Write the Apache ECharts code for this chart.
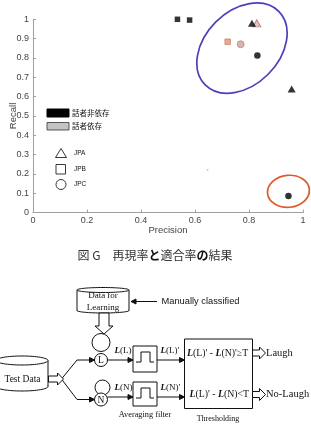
<!DOCTYPE html>
<html><head><meta charset="utf-8">
<script src="https://cdn.jsdelivr.net/npm/echarts@6/dist/echarts.min.js"></script>
<style>html,body{margin:0;padding:0;background:#fff}#c{width:311px;height:445px}</style>
</head><body><div id="c"></div>
<script>
// ---- data ----
const xTickValues = [0, 0.2, 0.4, 0.6, 0.8, 1];
const yTickValues = [0, 0.1, 0.2, 0.3, 0.4, 0.5, 0.6, 0.7, 0.8, 0.9, 1];
const legendGroups = ['話者非依存', '話者依存'];
const legendSets = ['JPA', 'JPB', 'JPC'];
// speaker-independent (black)
const indepJPA = [[0.811, 0.979], [0.958, 0.639]];
const indepJPB = [[0.535, 1.0], [0.580, 0.996]];
const indepJPC = [[0.831, 0.813], [0.946, 0.086]];
// speaker-dependent (coloured)
const depJPA = [[0.829, 0.979]];
const depJPB = [[0.721, 0.884]];
const depJPC = [[0.769, 0.871]];
const strayDot = [[0.647, 0.22]];
// ellipse centres (data coords)
const ellipseCentres = [[0.774, 0.851], [0.946, 0.110]];
const caption = '図 G　再現率{b|と}適合率{b|の}結果';

// ---- styles ----
const ellipseStyles = [
  {rx: 52, ry: 37, rot: Math.PI / 4, color: '#4a40b8'},
  {rx: 21, ry: 16, rot: 0.1, color: '#e05a2c'}
];
const AX = '#a0a0a0', TX = '#444';
const SERIF = 'Liberation Serif';
const SANS = 'Liberation Sans';

function txt(x, y, text, font, align, extra) {
  return Object.assign({type: 'text', x: x, y: y, z: 20,
    style: {text: text, font: font, fill: '#111', align: align || 'left', textAlign: align || 'left',
      verticalAlign: 'middle', textVerticalAlign: 'middle'}}, extra || {});
}
function richTxt(x, y, text, size, align) {
  return {type: 'text', x: x, y: y, z: 20,
    style: {text: text, fill: '#111', align: align || 'left', textAlign: align || 'left',
      verticalAlign: 'middle', textVerticalAlign: 'middle', font: size + 'px ' + SERIF,
      rich: {b: {font: 'italic bold ' + size + 'px ' + SERIF, fill: '#111'},
             n: {font: size + 'px ' + SERIF, fill: '#111'}}}};
}
function line(x1, y1, x2, y2, z) {
  return {type: 'line', z: z || 10, shape: {x1: x1, y1: y1, x2: x2, y2: y2}, style: {stroke: '#111', lineWidth: 1}};
}
function poly(points, fill, z) {
  return {type: 'polygon', z: z || 10, shape: {points: points}, style: {fill: fill || '#111', stroke: '#111', lineWidth: 1}};
}
function pline(points, z) {
  return {type: 'polyline', z: z || 10, shape: {points: points}, style: {stroke: '#111', fill: null, lineWidth: 1}};
}
function rect(x, y, w, h, z) {
  return {type: 'rect', z: z || 10, shape: {x: x, y: y, width: w, height: h}, style: {fill: '#fff', stroke: '#111', lineWidth: 1}};
}
function circ(cx, cy, r, fill, z) {
  return {type: 'circle', z: z || 10, shape: {cx: cx, cy: cy, r: r}, style: {fill: fill, stroke: '#111', lineWidth: 1}};
}
function ell(cx, cy, rx, ry, fill, stroke, z) {
  return {type: 'ellipse', z: z || 10, shape: {cx: cx, cy: cy, rx: rx, ry: ry}, style: {fill: fill, stroke: stroke, lineWidth: 1}};
}
function arrowR(x, y) { return poly([[x, y], [x - 5, y - 2.5], [x - 5, y + 2.5]], '#111', 12); }
function arrowL(x, y) { return poly([[x, y], [x + 5, y - 2.5], [x + 5, y + 2.5]], '#111', 12); }
function hollowR(x1, x2, y) {
  return poly([[x1, y - 3], [x2 - 6, y - 3], [x2 - 6, y - 6], [x2, y], [x2 - 6, y + 6], [x2 - 6, y + 3], [x1, y + 3]], '#fff', 11);
}
function hollowD(x, y1, y2) {
  return poly([[x - 5, y1], [x + 5, y1], [x + 5, y2 - 8], [x + 9, y2 - 8], [x, y2], [x - 9, y2 - 8], [x - 5, y2 - 8]], '#fff', 11);
}
function cylinder(x, y, w, h, ry) {
  const cx = x + w / 2;
  return [
    ell(cx, y + h - ry, w / 2, ry, '#fff', '#111', 8),
    {type: 'rect', z: 9, shape: {x: x + 0.5, y: y + ry, width: w - 1, height: h - 2 * ry}, style: {fill: '#fff', stroke: null}},
    line(x, y + ry, x, y + h - ry, 9),
    line(x + w, y + ry, x + w, y + h - ry, 9),
    ell(cx, y + ry, w / 2, ry, '#fff', '#111', 9)
  ];
}

// legend graphics inside plot
const legendEls = [
  {type: 'rect', z: 20, shape: {x: 47, y: 109, width: 22, height: 8}, style: {fill: '#000', stroke: '#000'}},
  txt(72, 113.5, legendGroups[0], '7.5px "Noto Sans CJK JP"'),
  {type: 'rect', z: 20, shape: {x: 47, y: 122.5, width: 22, height: 7.5}, style: {fill: '#c4c4c4', stroke: '#333', lineWidth: 0.8}},
  txt(72, 126.5, legendGroups[1], '7.5px "Noto Sans CJK JP"'),
  {type: 'polygon', z: 20, shape: {points: [[61, 148.5], [66.5, 157.5], [55.5, 157.5]]}, style: {fill: '#fff', stroke: '#222', lineWidth: 0.9}},
  txt(74, 153.5, legendSets[0], '6.5px ' + SANS),
  {type: 'rect', z: 20, shape: {x: 56, y: 164.5, width: 9.5, height: 9.5}, style: {fill: '#fff', stroke: '#222', lineWidth: 0.9}},
  txt(74, 169.5, legendSets[1], '6.5px ' + SANS),
  {type: 'circle', z: 20, shape: {cx: 61, cy: 184.5, r: 5}, style: {fill: '#fff', stroke: '#222', lineWidth: 0.9}},
  txt(74, 184.5, legendSets[2], '6.5px ' + SANS)
];

const captionEl = {type: 'text', x: 155, y: 255, z: 20,
  style: {text: caption, font: '12px "Noto Sans CJK JP"', fill: '#333',
    align: 'center', textAlign: 'center', verticalAlign: 'middle', textVerticalAlign: 'middle',
    rich: {b: {font: 'bold 12px "Noto Sans CJK JP"', fill: '#111'}}}};

// diagram
const diagram = [].concat(
  cylinder(77, 287.5, 52, 25.5, 2.5),
  [txt(103, 296, 'Data for', '9px ' + SERIF, 'center'),
   txt(103, 307.5, 'Learning', '9px ' + SERIF, 'center'),
   line(157, 301.5, 131, 301.5), arrowL(131, 301.5),
   txt(161.5, 301.5, 'Manually classified', '9.3px ' + SANS),
   hollowD(104, 313, 334)],
  cylinder(-4, 356, 52, 35, 4.5),
  [txt(22.5, 379.5, 'Test Data', '9.5px ' + SERIF, 'center'),
   hollowR(48.5, 63.5, 379),
   pline([[61.5, 379], [77, 360], [94, 360]]), arrowR(94.5, 360),
   pline([[61.5, 379], [77, 399.5], [94, 399.5]]), arrowR(94.5, 399.5),
   {type: 'circle', z: 9, shape: {cx: 101, cy: 342.5, r: 9}, style: {fill: null, stroke: '#111', lineWidth: 1}},
   circ(101, 360, 6.5, '#fff', 12), txt(101, 360.5, 'L', '9.5px ' + SERIF, 'center'),
   {type: 'circle', z: 9, shape: {cx: 102.5, cy: 387.5, r: 7.5}, style: {fill: null, stroke: '#111', lineWidth: 1}},
   circ(101, 399.5, 6.5, '#fff', 12), txt(101, 400, 'N', '9.5px ' + SERIF, 'center'),
   line(107.5, 360, 133, 360), arrowR(133, 360),
   line(107.5, 397, 133, 397), arrowR(133, 397),
   richTxt(114.5, 351, '{b|L}{n|(L)}', 9),
   richTxt(114.5, 388, '{b|L}{n|(N)}', 9),
   rect(133, 346, 24, 26),
   pline([[136, 362], [141, 362], [141, 352], [150, 352], [150, 362], [154, 362]], 12),
   rect(133, 382, 24, 24),
   pline([[136, 398], [141, 398], [141, 388], [150, 388], [150, 398], [154, 398]], 12),
   line(157, 360, 184.5, 360), arrowR(184.5, 360),
   line(157, 397, 184.5, 397), arrowR(184.5, 397),
   richTxt(160.5, 351, "{b|L}{n|(L)'}", 9),
   richTxt(160.5, 388, "{b|L}{n|(N)'}", 9),
   rect(184.5, 339, 68, 69.5),
   richTxt(187, 353, "{b|L}{n|(L)' - }{b|L}{n|(N)'≥T}", 9.8),
   richTxt(189.5, 394.5, "{b|L}{n|(L)' - }{b|L}{n|(N)<T}", 9.8),
   hollowR(252.5, 265.5, 353), txt(266, 353, 'Laugh', '10.5px ' + SERIF),
   hollowR(252.5, 265.5, 394.5), txt(266, 394.5, 'No-Laugh', '10.5px ' + SERIF),
   txt(145, 415, 'Averaging filter', '8.3px ' + SERIF, 'center'),
   txt(218, 419, 'Thresholding', '8px ' + SERIF, 'center')]
);

const chart = echarts.init(document.getElementById('c'), null, {renderer: 'canvas'});
chart.setOption({
  animation: false,
  backgroundColor: '#fff',
  grid: {left: 33, right: 8, top: 19.3, bottom: 232.4, containLabel: false, outerBoundsMode: 'none'},
  xAxis: {type: 'value', min: xTickValues[0], max: xTickValues[xTickValues.length - 1], interval: 0.2,
    name: 'Precision', nameLocation: 'middle', nameGap: 13, nameMoveOverlap: false,
    nameTextStyle: {fontSize: 9.5, color: TX, fontFamily: SANS},
    axisLine: {show: true, lineStyle: {color: AX, width: 1}},
    axisTick: {show: true, inside: true, length: 3, lineStyle: {color: AX}},
    axisLabel: {fontSize: 9, color: TX, fontFamily: SANS, margin: 3},
    splitLine: {show: false}},
  yAxis: {type: 'value', min: yTickValues[0], max: yTickValues[yTickValues.length - 1], interval: 0.1,
    name: 'Recall', nameLocation: 'middle', nameGap: 15, nameMoveOverlap: false,
    nameTextStyle: {fontSize: 9.5, color: TX, fontFamily: SANS},
    axisLine: {show: true, lineStyle: {color: AX, width: 1}},
    axisTick: {show: true, inside: true, length: 3, lineStyle: {color: AX}},
    axisLabel: {fontSize: 9, color: TX, fontFamily: SANS, margin: 4},
    splitLine: {show: false}},
  series: [
    {type: 'custom', name: 'ellipses', silent: true, clip: false, z: 3, data: ellipseCentres,
      renderItem: function (params, api) {
        const p = api.coord([api.value(0), api.value(1)]);
        const s = ellipseStyles[params.dataIndex];
        return {type: 'ellipse', x: p[0], y: p[1], rotation: s.rot,
          shape: {cx: 0, cy: 0, rx: s.rx, ry: s.ry},
          style: {fill: null, stroke: s.color, lineWidth: 1.7}};
      }},
    {type: 'scatter', name: '話者非依存 JPB', data: indepJPB, symbol: 'rect', symbolSize: 5.5, clip: false, z: 5, itemStyle: {color: '#000'}},
    {type: 'scatter', name: '話者非依存 JPA', data: indepJPA, symbol: 'triangle', symbolSize: [8, 7], clip: false, z: 5, itemStyle: {color: '#000'}},
    {type: 'scatter', name: '話者非依存 JPC', data: indepJPC, symbol: 'circle', symbolSize: 6.5, clip: false, z: 5, itemStyle: {color: '#000'}},
    {type: 'scatter', name: '話者依存 JPA', data: depJPA, symbol: 'triangle', symbolSize: [8, 7], clip: false, z: 4, itemStyle: {color: '#d9b8b8', borderColor: '#b06868', borderWidth: 1}},
    {type: 'scatter', name: '話者依存 JPB', data: depJPB, symbol: 'rect', symbolSize: 5.5, clip: false, z: 5, itemStyle: {color: '#dc9878', borderColor: '#c0704c', borderWidth: 0.8}},
    {type: 'scatter', name: '話者依存 JPC', data: depJPC, symbol: 'circle', symbolSize: 7, clip: false, z: 5, itemStyle: {color: '#c9a3a3', borderColor: '#c07070', borderWidth: 0.8}},
    {type: 'scatter', name: 'stray', data: strayDot, symbol: 'circle', symbolSize: 1.5, clip: false, z: 5, itemStyle: {color: '#999'}}
  ],
  graphic: {elements: legendEls.concat([captionEl]).concat(diagram)}
});
</script></body></html>
